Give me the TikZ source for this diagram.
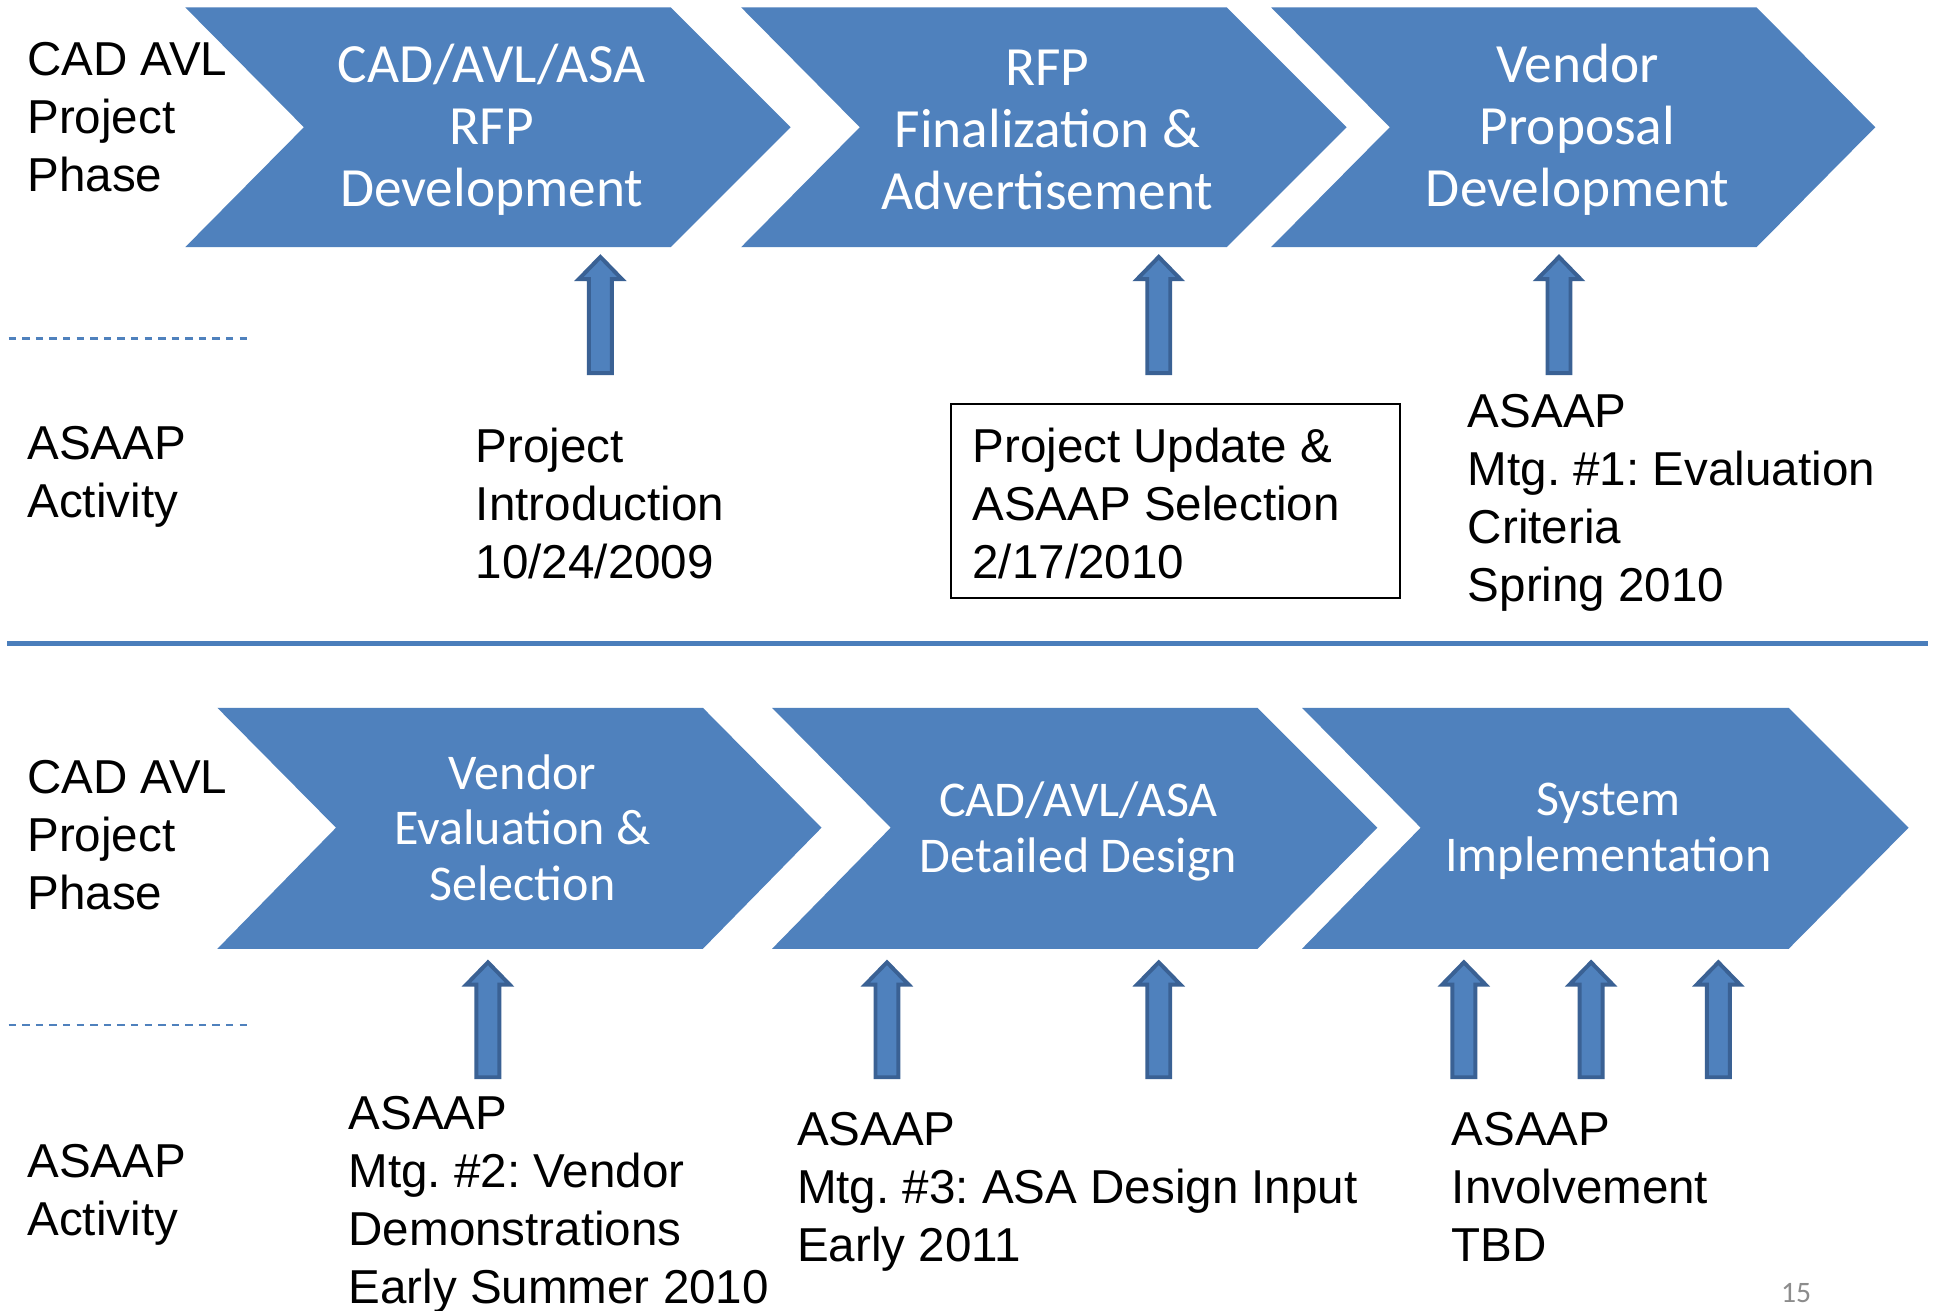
\documentclass[tikz,border=0pt]{standalone}
\usepackage{fontspec}
\setmainfont{Liberation Sans}
\newfontfamily\calfont{Carlito}
\frenchspacing
\definecolor{chevblue}{HTML}{4F81BD}
\definecolor{arrline}{HTML}{3A6194}
\definecolor{sepblue}{HTML}{4A7EBB}
\definecolor{pggray}{HTML}{8C8C8C}
\newcommand\blockarrow[3]{% x, ytip, ybottom
  \draw[arrline, line width=3.2pt, fill=chevblue, line join=miter]
    (#1-9.3,#3) -- (#1-9.3,#2+18) -- (#1-17.5,#2+18) -- (#1,#2)
    -- (#1+17.5,#2+18) -- (#1+9.3,#2+18) -- (#1+9.3,#3) -- cycle;}
\newcommand\chevron[7]{% left, notch, shoulder, tip, top, mid, bottom
  \fill[chevblue] (#1,#5) -- (#3,#5) -- (#4,#6) -- (#3,#7) -- (#1,#7) -- (#2,#6) -- cycle;}
\begin{document}
\begin{tikzpicture}[x=1pt,y=-1pt,
  lbl/.style={font=\fontsize{38.5}{47}\selectfont, align=left, inner sep=0pt, anchor=north west},
  chevtop/.style={text=white, font=\calfont\fontsize{44.8}{50}\selectfont, align=center, inner sep=0pt},
  chevbot/.style={text=white, font=\calfont\fontsize{40.5}{45}\selectfont, align=center, inner sep=0pt},
  dashsep/.style={chevblue, line width=1.8pt, dash pattern=on 6pt off 5pt}]
\useasboundingbox (0,0) rectangle (1568,1061);
\fill[white] (0,0) rectangle (1568,1061);

% top chevrons
\chevron{150}{246}{543}{640}{6}{103}{200}
\chevron{600}{696}{993}{1090}{6}{103}{200}
\chevron{1029}{1125}{1422}{1518}{6}{103}{200}
% bottom chevrons
\chevron{176}{272}{569}{665}{573}{670}{768}
\chevron{625}{721}{1018}{1115}{573}{670}{768}
\chevron{1054}{1150}{1448}{1545}{573}{670}{768}

\node[chevtop] (c1) at (398,105) {CAD/AVL/ASA\\RFP\\Development};
\node[chevtop] (c2) at (848,105) {RFP\\Finalization \&\\Advertisement};
\node[chevtop] (c3) at (1277,105) {Vendor\\Proposal\\Development};
\node[chevbot] (c4) at (423,670) {Vendor\\Evaluation \&\\Selection};
\node[chevbot] (c5) at (873,673) {CAD/AVL/ASA\\Detailed Design};
\node[chevbot] (c6) at (1302,673) {System\\Implementation};

% left labels
\node[lbl] (ph1) at (22,34) {CAD AVL\\Project\\Phase};
\node[lbl] (act1) at (22,345) {ASAAP\\Activity};
\node[lbl] (ph2) at (22,615) {CAD AVL\\Project\\Phase};
\node[lbl] (act2) at (22,926) {ASAAP\\Activity};

% dashed and solid separators
\draw[dashsep] (7,274) -- (200,274);
\draw[dashsep] (7,830) -- (200,830);
\draw[sepblue, line width=4.5pt] (6,521) -- (1561,521);

% arrows
\blockarrow{486}{208}{302}
\blockarrow{938}{208}{302}
\blockarrow{1262}{208}{302}
\blockarrow{395}{779}{872}
\blockarrow{718}{779}{872}
\blockarrow{938}{779}{872}
\blockarrow{1185}{779}{872}
\blockarrow{1288}{779}{872}
\blockarrow{1391}{779}{872}

% activity texts
\node[lbl] (a1) at (385,346) {Project\\Introduction\\10/24/2009};
\draw[black, line width=1.6pt] (770,327) rectangle (1133,484);
\node[lbl] (a2) at (787,346) {Project Update \&\\ASAAP Selection\\2/17/2010};
\node[lbl] (a3) at (1188,319) {ASAAP\\Mtg. \#1: Evaluation\\Criteria\\Spring 2010};
\node[lbl] (a4) at (282,887) {ASAAP\\Mtg. \#2: Vendor\\Demonstrations\\Early Summer 2010};
\node[lbl] (a5) at (645,900) {ASAAP\\Mtg. \#3: ASA Design Input\\Early 2011};
\node[lbl] (a6) at (1175,900) {ASAAP\\Involvement\\TBD};

\node[text=pggray, font=\calfont\fontsize{24}{28}\selectfont, inner sep=0pt] (pg) at (1454,1047) {15};
\end{tikzpicture}
\end{document}
